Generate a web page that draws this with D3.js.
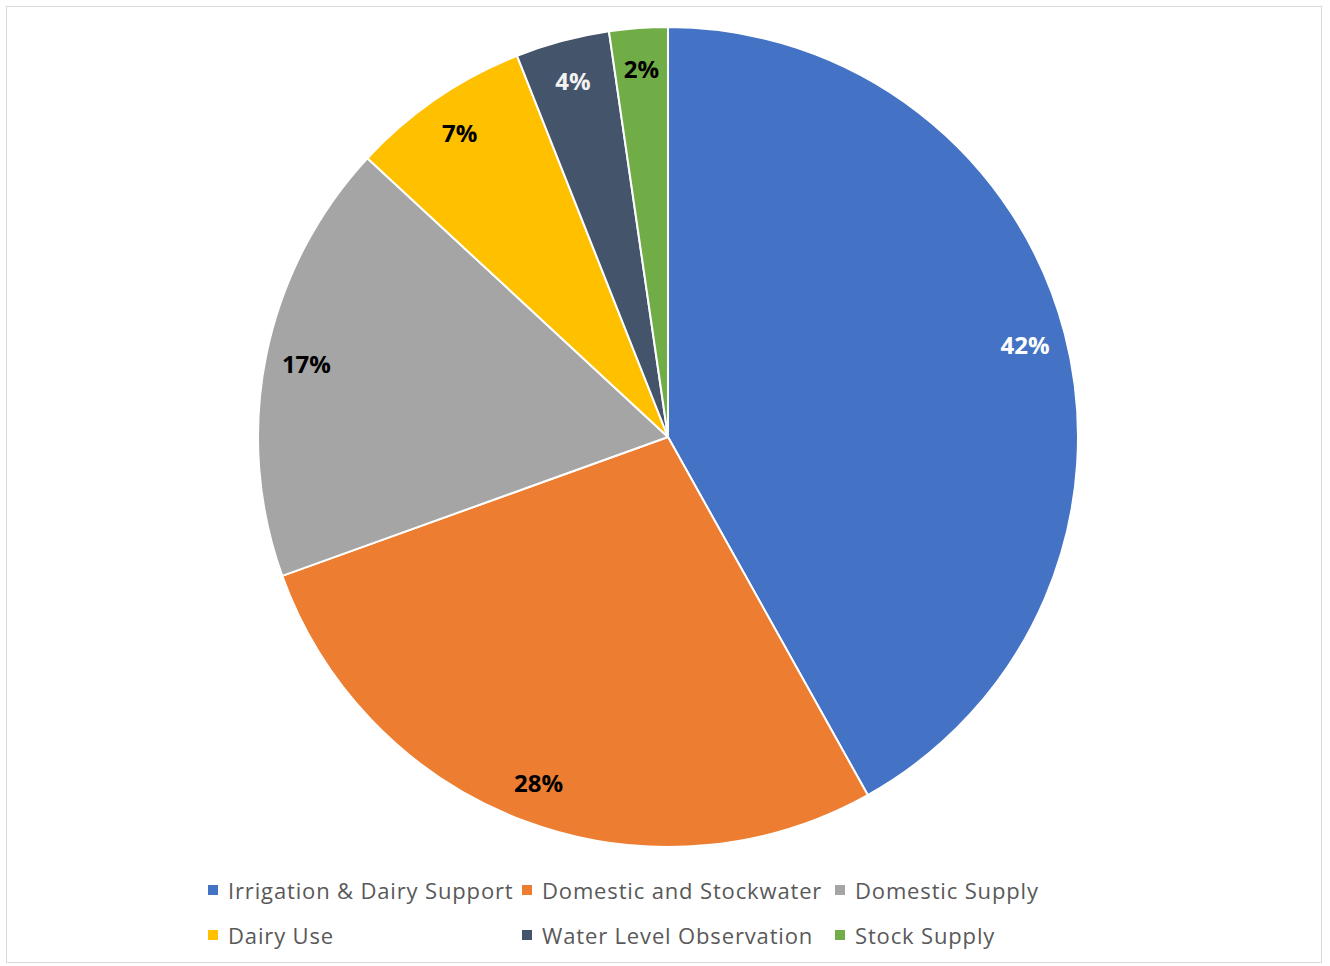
<!DOCTYPE html>
<html>
<head>
<meta charset="utf-8">
<script src="https://cdn.jsdelivr.net/npm/d3@7"></script>
<style>
  html, body { margin: 0; padding: 0; background: #ffffff; }
  svg { display: block; }
</style>
</head>
<body>
<svg id="chart" width="1330" height="966"></svg>
<script>
// ---- data ----
const categories = ["Irrigation & Dairy Support", "Domestic and Stockwater", "Domestic Supply", "Dairy Use", "Water Level Observation", "Stock Supply"];
const values = [41.9, 27.6, 17.4, 7.1, 3.7, 2.3];
const labels = ["42%", "28%", "17%", "7%", "4%", "2%"];
const colors = ["#4472C4", "#ED7D31", "#A5A5A5", "#FFC000", "#44546A", "#70AD47"];
const labelColors = ["#ffffff", "#000000", "#000000", "#000000", "#f2f2f2", "#000000"];

const svg = d3.select("#chart");

// outer frame
svg.append("rect")
  .attr("x", 6.5).attr("y", 6.5)
  .attr("width", 1315).attr("height", 956)
  .attr("fill", "#ffffff")
  .attr("stroke", "#d9d9d9")
  .attr("stroke-width", 1);

const cx = 668, cy = 437, R = 410;
const g = svg.append("g").attr("transform", `translate(${cx},${cy})`);

const pie = d3.pie().sort(null).value(d => d.v);
const arcs = pie(values.map((v, i) => ({ v, i })));
const arc = d3.arc().innerRadius(0).outerRadius(R);
const labelArc = d3.arc().innerRadius(369).outerRadius(369);

g.selectAll("path.slice")
  .data(arcs)
  .join("path")
  .attr("class", "slice")
  .attr("d", arc)
  .attr("fill", d => colors[d.data.i])
  .attr("stroke", "#ffffff")
  .attr("stroke-width", 2)
  .attr("stroke-linejoin", "round");

g.selectAll("text.lbl")
  .data(arcs)
  .join("text")
  .attr("class", "lbl")
  .attr("transform", d => `translate(${labelArc.centroid(d)})`)
  .attr("text-anchor", "middle")
  .attr("dominant-baseline", "central")
  .attr("font-family", "'Open Sans', sans-serif")
  .attr("font-weight", "bold")
  .attr("font-size", 24)
  .attr("fill", d => labelColors[d.data.i])
  .text(d => labels[d.data.i]);

// legend
const colX = [208, 522, 835];
const rowY = [890, 935];
const legend = svg.append("g");
categories.forEach((c, i) => {
  const col = i % 3, row = Math.floor(i / 3);
  const item = legend.append("g").attr("transform", `translate(${colX[col]},${rowY[row]})`);
  item.append("rect")
    .attr("x", 0).attr("y", -5)
    .attr("width", 10).attr("height", 10)
    .attr("fill", colors[i]);
  item.append("text")
    .attr("x", 20).attr("y", 0)
    .attr("dominant-baseline", "central")
    .attr("font-family", "'Open Sans', sans-serif")
    .attr("font-size", 22)
    .attr("letter-spacing", 0.85)
    .attr("fill", "#595959")
    .text(c);
});
</script>
</body>
</html>
